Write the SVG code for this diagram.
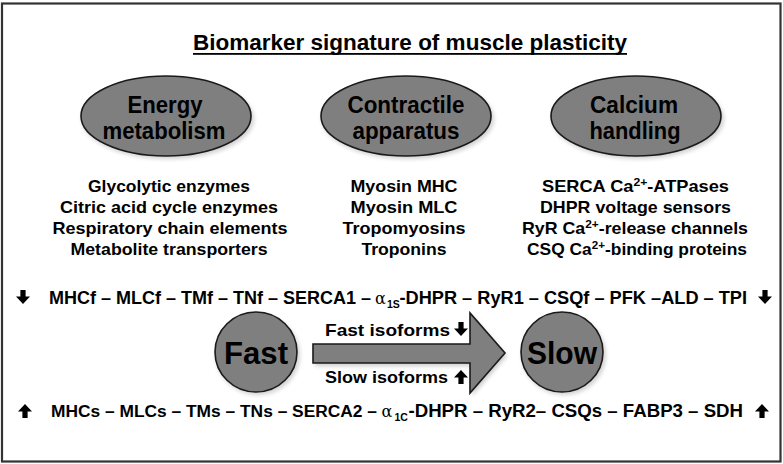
<svg xmlns="http://www.w3.org/2000/svg" width="783" height="464" viewBox="0 0 783 464">
<defs>
<style>
.t{font-family:"Liberation Sans Narrow","Liberation Sans",Arial,sans-serif;font-weight:bold;fill:#000}
.g{font-family:"DejaVu Serif","Liberation Serif",serif;font-weight:normal;fill:#000}
.node{fill:#7f7f7f;stroke:#1a1a1a;stroke-width:1.6}
.sh{fill:#000;opacity:0.18}
.arr{fill:#000}
</style>
<filter id="blur" x="-20%" y="-20%" width="140%" height="140%"><feGaussianBlur stdDeviation="2"/></filter>
<path id="dn" d="M-2.6,-7 L2.6,-7 L2.6,-0.5 L7,-0.5 L0,7 L-7,-0.5 L-2.6,-0.5 Z"/>
<path id="up" d="M-2.6,7 L2.6,7 L2.6,0.5 L7,0.5 L0,-7 L-7,0.5 L-2.6,0.5 Z"/>
</defs>
<rect x="0" y="0" width="783" height="464" fill="#fff"/>
<rect x="2" y="3.5" width="778.5" height="458" fill="none" stroke="#333" stroke-width="2.2"/>

<g id="title">
<text class="t" x="410" y="50" font-size="22.5" text-anchor="middle" textLength="434" lengthAdjust="spacingAndGlyphs">Biomarker signature of muscle plasticity</text>
<rect x="193" y="53" width="434" height="1.8" fill="#000"/>
</g>

<g id="energy">
<ellipse class="sh" cx="168" cy="119" rx="86" ry="40" filter="url(#blur)"/>
<ellipse class="node" cx="166" cy="116" rx="85" ry="40"/>
<text class="t" x="165" y="113" font-size="23" text-anchor="middle" textLength="75" lengthAdjust="spacingAndGlyphs">Energy</text>
<text class="t" x="164" y="139" font-size="23" text-anchor="middle" textLength="123" lengthAdjust="spacingAndGlyphs">metabolism</text>
</g>
<g id="contractile">
<ellipse class="sh" cx="408" cy="119" rx="86" ry="40" filter="url(#blur)"/>
<ellipse class="node" cx="406" cy="116" rx="85" ry="40"/>
<text class="t" x="406" y="113" font-size="23" text-anchor="middle" textLength="117" lengthAdjust="spacingAndGlyphs">Contractile</text>
<text class="t" x="406" y="139" font-size="23" text-anchor="middle" textLength="107" lengthAdjust="spacingAndGlyphs">apparatus</text>
</g>
<g id="calcium">
<ellipse class="sh" cx="638" cy="119" rx="86" ry="40" filter="url(#blur)"/>
<ellipse class="node" cx="636" cy="116" rx="85" ry="40"/>
<text class="t" x="634" y="113" font-size="23" text-anchor="middle" textLength="88" lengthAdjust="spacingAndGlyphs">Calcium</text>
<text class="t" x="635" y="139" font-size="23" text-anchor="middle" textLength="91" lengthAdjust="spacingAndGlyphs">handling</text>
</g>

<g id="energy-list" font-size="16.5">
<text class="t" x="169" y="192" text-anchor="middle" textLength="162" lengthAdjust="spacingAndGlyphs">Glycolytic enzymes</text>
<text class="t" x="169" y="213" text-anchor="middle" textLength="218" lengthAdjust="spacingAndGlyphs">Citric acid cycle enzymes</text>
<text class="t" x="170" y="234" text-anchor="middle" textLength="235" lengthAdjust="spacingAndGlyphs">Respiratory chain elements</text>
<text class="t" x="169" y="255" text-anchor="middle" textLength="197" lengthAdjust="spacingAndGlyphs">Metabolite transporters</text>
</g>
<g id="contractile-list" font-size="16.5">
<text class="t" x="404" y="192" text-anchor="middle" textLength="107" lengthAdjust="spacingAndGlyphs">Myosin MHC</text>
<text class="t" x="404" y="213" text-anchor="middle" textLength="107" lengthAdjust="spacingAndGlyphs">Myosin MLC</text>
<text class="t" x="404" y="234" text-anchor="middle" textLength="123" lengthAdjust="spacingAndGlyphs">Tropomyosins</text>
<text class="t" x="404" y="255" text-anchor="middle" textLength="85" lengthAdjust="spacingAndGlyphs">Troponins</text>
</g>
<g id="calcium-list" font-size="16.5">
<text class="t" x="542" y="192" textLength="187" lengthAdjust="spacingAndGlyphs">SERCA Ca<tspan font-size="11" dy="-6">2+</tspan><tspan dy="6">-ATPases</tspan></text>
<text class="t" x="540" y="213" textLength="191" lengthAdjust="spacingAndGlyphs">DHPR voltage sensors</text>
<text class="t" x="522" y="234" textLength="226" lengthAdjust="spacingAndGlyphs">RyR Ca<tspan font-size="11" dy="-6">2+</tspan><tspan dy="6">-release channels</tspan></text>
<text class="t" x="527" y="255" textLength="220" lengthAdjust="spacingAndGlyphs">CSQ Ca<tspan font-size="11" dy="-6">2+</tspan><tspan dy="6">-binding proteins</tspan></text>
</g>

<g id="fast-row" font-size="18">
<use href="#dn" x="23" y="297" class="arr"/>
<text class="t" x="49" y="304" textLength="322" lengthAdjust="spacingAndGlyphs">MHCf – MLCf – TMf – TNf – SERCA1 –</text>
<text class="g" x="375" y="304" font-size="16">α</text>
<text class="t" x="387" y="308" font-size="10.5">1S</text>
<text class="t" x="399.5" y="304" textLength="347.5" lengthAdjust="spacingAndGlyphs">-DHPR – RyR1 – CSQf – PFK –ALD – TPI</text>
<use href="#dn" x="765" y="297" class="arr"/>
</g>

<g id="fast">
<ellipse class="sh" cx="258" cy="355" rx="42" ry="40" filter="url(#blur)"/>
<ellipse class="node" cx="256" cy="352" rx="41" ry="40"/>
<text class="t" x="256" y="364" font-size="32" text-anchor="middle" textLength="64" lengthAdjust="spacingAndGlyphs">Fast</text>
</g>
<g id="slow">
<ellipse class="sh" cx="564" cy="355" rx="42" ry="40" filter="url(#blur)"/>
<ellipse class="node" cx="562" cy="352" rx="41" ry="40"/>
<text class="t" x="562" y="364" font-size="32" text-anchor="middle" textLength="70" lengthAdjust="spacingAndGlyphs">Slow</text>
</g>

<g id="connectors">
<path d="M315,347 L472,347 L472,316 L507,356 L472,396 L472,366 L315,366 Z" fill="#000" opacity="0.2" filter="url(#blur)"/>
<path d="M313,344 L470,344 L470,313 L505,353 L470,393 L470,363 L313,363 Z" fill="#7f7f7f" stroke="#1a1a1a" stroke-width="1.6" stroke-linejoin="miter"/>
</g>

<g id="arrow-labels" font-size="17">
<text class="t" x="325" y="336" textLength="125" lengthAdjust="spacingAndGlyphs">Fast isoforms</text>
<use href="#dn" x="461" y="329" class="arr"/>
<text class="t" x="325" y="383" textLength="123" lengthAdjust="spacingAndGlyphs">Slow isoforms</text>
<use href="#up" x="461" y="377" class="arr"/>
</g>

<g id="slow-row" font-size="18">
<use href="#up" x="25" y="411" class="arr"/>
<text class="t" x="51" y="417" font-size="17.4" textLength="326" lengthAdjust="spacingAndGlyphs">MHCs – MLCs – TMs – TNs – SERCA2 –</text>
<text class="g" x="381.5" y="417" font-size="16">α</text>
<text class="t" x="394.5" y="421" font-size="10.5">1C</text>
<text class="t" x="408.5" y="417" textLength="334.5" lengthAdjust="spacingAndGlyphs">-DHPR – RyR2– CSQs – FABP3 – SDH</text>
<use href="#up" x="762" y="411" class="arr"/>
</g>
</svg>
